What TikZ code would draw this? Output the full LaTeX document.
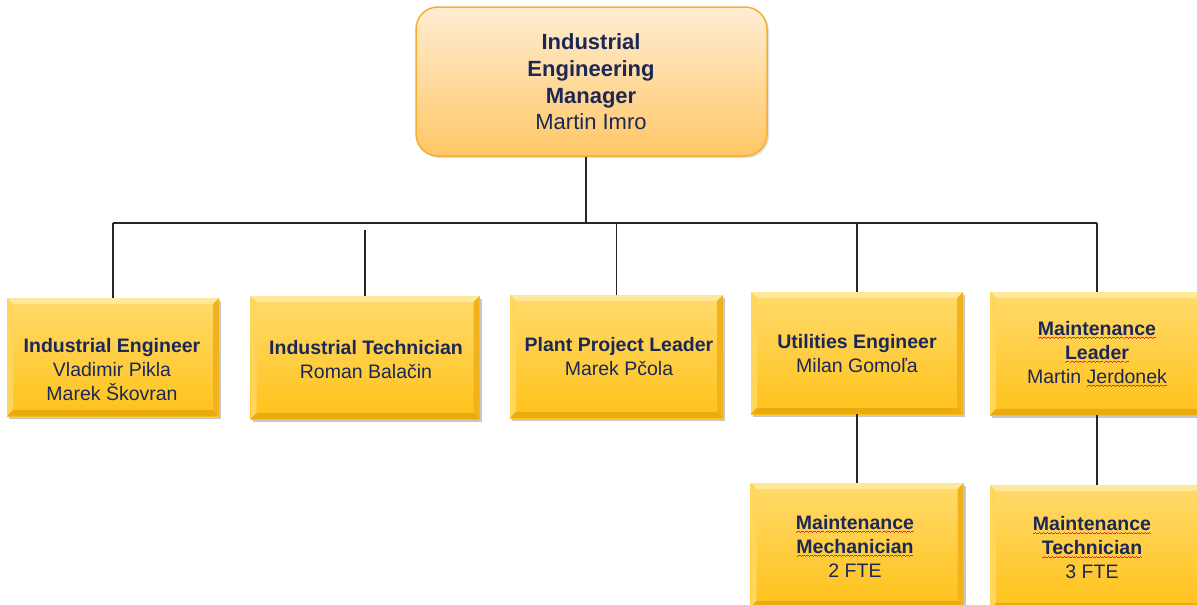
\documentclass[tikz,border=0pt]{standalone}
\usepackage{fontspec}
\setmainfont{Liberation Sans}
\usetikzlibrary{shadows,calc}
\definecolor{txt}{HTML}{1B2857}
\definecolor{gTop}{HTML}{FFDA6C}
\definecolor{gBot}{HTML}{FFC21A}
\definecolor{bvTop}{HTML}{FFE899}
\definecolor{bvLeft}{HTML}{FFD55A}
\definecolor{bvRight}{HTML}{F2B21C}
\definecolor{bvBot}{HTML}{EBAA10}
\definecolor{tTop}{HTML}{FFEDD2}
\definecolor{tBot}{HTML}{FFC766}
\definecolor{tLine}{HTML}{F6AE32}
\definecolor{sqred}{HTML}{E5312A}
\newcommand\wavepiece{\hbox{\rule[0pt]{1pt}{0.8pt}\rule[0.6pt]{1pt}{0.8pt}\rule[1.2pt]{1pt}{0.8pt}\rule[0.6pt]{1pt}{0.8pt}}}
\newcommand\sq[1]{\leavevmode\setbox0=\hbox{#1}\rlap{\copy0}\raisebox{-3.6pt}{\color{sqred}\hbox to \wd0{\xleaders\wavepiece\hfil}}}
\tikzset{
  gbox/.style={rectangle, inner sep=0pt, top color=gTop, bottom color=gBot,
    drop shadow={shadow xshift=2pt, shadow yshift=-2.5pt, opacity=0.3, fill=black!70},
    path picture={
      \fill[bvTop] (path picture bounding box.north west) -- (path picture bounding box.north east)
        -- ([xshift=-6pt,yshift=-6pt]path picture bounding box.north east)
        -- ([xshift=6pt,yshift=-6pt]path picture bounding box.north west) -- cycle;
      \fill[bvLeft] (path picture bounding box.north west) -- ([xshift=6pt,yshift=-6pt]path picture bounding box.north west)
        -- ([xshift=6pt,yshift=6pt]path picture bounding box.south west) -- (path picture bounding box.south west) -- cycle;
      \fill[bvRight] (path picture bounding box.north east) -- ([xshift=-6pt,yshift=-6pt]path picture bounding box.north east)
        -- ([xshift=-6pt,yshift=6pt]path picture bounding box.south east) -- (path picture bounding box.south east) -- cycle;
      \fill[bvBot] (path picture bounding box.south west) -- ([xshift=6pt,yshift=6pt]path picture bounding box.south west)
        -- ([xshift=-6pt,yshift=6pt]path picture bounding box.south east) -- (path picture bounding box.south east) -- cycle;
    }},
  topbox/.style={rectangle, rounded corners=22pt, inner sep=0pt, top color=tTop, bottom color=tBot,
    draw=tLine, line width=1.5pt,
    drop shadow={shadow xshift=2pt, shadow yshift=-2pt, opacity=0.2, fill=black!60}},
  lbl/.style={align=center, inner sep=0pt, text=txt, font=\fontsize{19.5}{24}\selectfont},
  toplbl/.style={align=center, inner sep=0pt, text=txt, font=\fontsize{22}{26.7}\selectfont},
  conn/.style={draw=black!85, line width=1.3pt}
}
\begin{document}
\begin{tikzpicture}[x=1pt,y=-1pt]
\useasboundingbox (0,0) rectangle (1197,605);
\clip (0,0) rectangle (1197,605);
\fill[white] (0,0) rectangle (1197,605);

% boxes
\node[topbox, minimum width=351pt, minimum height=149pt] (top) at (591.5,81.5) {};
\node[gbox, minimum width=212pt, minimum height=118pt] (ie) at (113,357) {};
\node[gbox, minimum width=229pt, minimum height=123pt] (it) at (365,357.5) {};
\node[gbox, minimum width=213pt, minimum height=123pt] (ppl) at (616.5,356.5) {};
\node[gbox, minimum width=212pt, minimum height=122pt] (ue) at (857,353) {};
\node[gbox, minimum width=214pt, minimum height=123pt] (ml) at (1097,353.5) {};
\node[gbox, minimum width=213pt, minimum height=124pt] (mm) at (857,545) {};
\node[gbox, minimum width=214pt, minimum height=124pt] (mt) at (1097,547) {};

% labels
\node[toplbl] (toptxt) at (591,82) {\textbf{Industrial}\\\textbf{Engineering}\\\textbf{Manager}\\Martin Imro};
\node[lbl] (ietxt) at (112,369.5) {\textbf{Industrial Engineer}\\Vladimir Pikla\\Marek Škovran};
\node[lbl] (ittxt) at (366,359.5) {\textbf{Industrial Technician}\\Roman Balačin};
\node[lbl] (ppltxt) at (619,357) {\textbf{Plant Project Leader}\\Marek Pčola};
\node[lbl] (uetxt) at (857,354) {\textbf{Utilities Engineer}\\Milan Gomoľa};
\node[lbl] (mltxt) at (1097,354) {\textbf{\sq{Maintenance}}\\\textbf{\sq{Leader}}\\Martin \sq{Jerdonek}};
\node[lbl] (mmtxt) at (855,546) {\textbf{\sq{Maintenance}}\\\textbf{\sq{Mechanician}}\\2 FTE};
\node[lbl] (mttxt) at (1092,547.5) {\textbf{\sq{Maintenance}}\\\textbf{\sq{Technician}}\\3 FTE};

% connectors
\coordinate (bus) at (586,223);
\draw[conn] (top.south -| bus) -- (bus);
\draw[conn] (ie.north |- bus) -- (ml.north |- bus);
\draw[conn] (ie.north |- bus) -- (ie.north);
\draw[conn] ([yshift=-7pt]it.north |- bus) -- (it.north);
\draw[conn] (ppl.north |- bus) -- (ppl.north);
\draw[conn] (ue.north |- bus) -- (ue.north);
\draw[conn] (ml.north |- bus) -- (ml.north);
\draw[conn] (ue.south) -- (mm.north);
\draw[conn] (ml.south) -- (mt.north);
\end{tikzpicture}
\end{document}
